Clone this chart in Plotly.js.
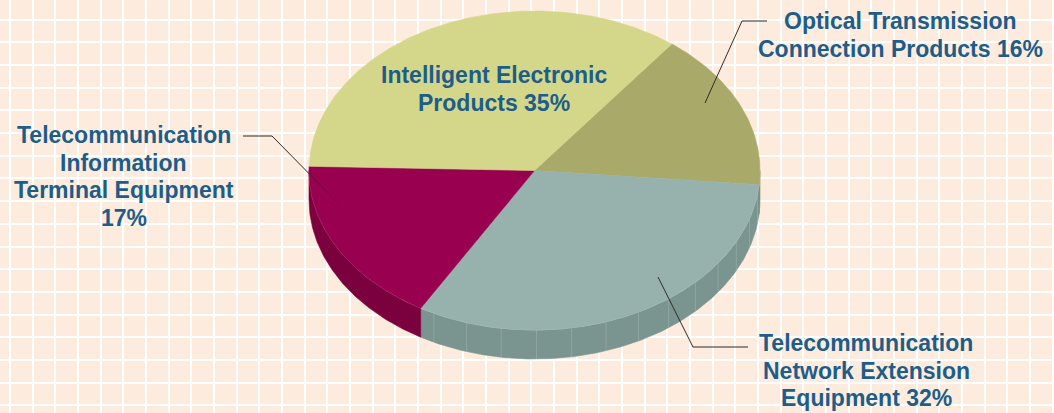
<!DOCTYPE html>
<html>
<head>
<meta charset="utf-8">
<script src="https://cdn.plot.ly/plotly-3.0.1.min.js"></script>
<style>html,body{margin:0;padding:0;background:#FDECDD;}#chart{width:1054px;height:413px;}</style>
</head>
<body>
<div id="chart"></div>
<script>
// ---- data ----
const categories = [
  "Optical Transmission Connection Products",
  "Telecommunication Network Extension Equipment",
  "Telecommunication Information Terminal Equipment",
  "Intelligent Electronic Products"
];
const values = [16, 32, 17, 35];
const labelLines = [
  ["Optical Transmission", "Connection Products 16%"],
  ["Telecommunication", "Network Extension", "Equipment 32%"],
  ["Telecommunication", "Information", "Terminal Equipment", "17%"],
  ["Intelligent Electronic", "Products 35%"]
];
const topColors  = ["#A9AA69", "#97B2AD", "#990050", "#D4D78A"];
const sideColors = ["#8A8B52", "#7A948F", "#7A003E", "#AEB06C"];
const showFacets = [true, true, false, false];

// ---- geometry (layout constants, pixel space) ----
const CX = 534.5, CY = 170.5, RX = 225.5, RY = 159.5, DEPTH = 29;
const START = 52.5; // degrees, slices run clockwise
const LINE_H = 27.6;
const labelPos = [[900, 35], [866, 370.5], [123.5, 176.5], [493.5, 89]];
const leaders = [
  [[705, 103], [742, 21], [767, 21]],
  [[658, 277], [693, 347], [748, 347]],
  [[337, 202], [272, 136], [243, 136]],
  null
];

function pt(aDeg, dy) {
  const a = aDeg * Math.PI / 180;
  return [CX + RX * Math.cos(a), CY - RY * Math.sin(a) + (dy || 0)];
}
function arc(from, to, dy) {
  const n = Math.max(2, Math.ceil(Math.abs(to - from) / 0.5));
  const out = [];
  for (let k = 0; k <= n; k++) out.push(pt(from + (to - from) * k / n, dy));
  return out;
}

const total = values.reduce((s, v) => s + v, 0);
const sideTraces = [], topTraces = [], facetTraces = [];
let cum = 0;
values.forEach((v, i) => {
  const a0 = START - cum / total * 360;
  const a1 = a0 - v / total * 360;
  cum += v;
  // top face
  const pts = [[CX, CY]].concat(arc(a0, a1, 0)).concat([[CX, CY]]);
  topTraces.push({
    type: "scatter", mode: "lines", fill: "toself",
    x: pts.map(p => p[0]), y: pts.map(p => p[1]),
    fillcolor: topColors[i], line: {color: topColors[i], width: 0.6},
    hoverinfo: "skip", name: categories[i]
  });
  // front side (visible where angle in [-180, 0])
  const hi = Math.min(a0, 0), lo = Math.max(a1, -180);
  if (hi > lo) {
    const upper = arc(hi, lo, 0);
    const lower = arc(lo, hi, DEPTH);
    const sp = upper.concat(lower).concat([upper[0]]);
    sideTraces.push({
      type: "scatter", mode: "lines", fill: "toself",
      x: sp.map(p => p[0]), y: sp.map(p => p[1]),
      fillcolor: sideColors[i], line: {color: sideColors[i], width: 0.6},
      hoverinfo: "skip"
    });
    if (showFacets[i]) {
      const fx = [], fy = [];
      for (let a = Math.ceil(lo / 9) * 9 + 0.5; a < hi; a += 9) {
        if (a <= lo + 1 || a >= hi - 1) continue;
        const p1 = pt(a, 0), p2 = pt(a, DEPTH);
        fx.push(p1[0], p2[0], null); fy.push(p1[1], p2[1], null);
      }
      facetTraces.push({
        type: "scatter", mode: "lines", x: fx, y: fy,
        line: {color: "rgba(255,255,255,0.16)", width: 1}, hoverinfo: "skip"
      });
    }
    const edge = arc(hi, lo, 0);
    facetTraces.push({
      type: "scatter", mode: "lines",
      x: edge.map(p => p[0]), y: edge.map(p => p[1]),
      line: {color: "rgba(255,255,255,0.35)", width: 1}, hoverinfo: "skip"
    });
  }
});

const shapes = [];
leaders.forEach(L => {
  if (!L) return;
  shapes.push({
    type: "path", xref: "x", yref: "y", layer: "above",
    path: "M" + L.map(p => p[0] + "," + p[1]).join(" L"),
    line: {color: "#2b2b2b", width: 1}
  });
});

const annotations = [];
labelLines.forEach((lines, i) => {
  const n = lines.length;
  lines.forEach((t, k) => {
    annotations.push({
      x: labelPos[i][0], y: labelPos[i][1] + (k - (n - 1) / 2) * LINE_H,
      xref: "x", yref: "y", text: t, showarrow: false,
      xanchor: "center", yanchor: "middle", align: "center",
      font: {family: "Liberation Sans, Arial, sans-serif", size: 23, color: "#1C5D89", weight: "bold"}
    });
  });
});

const layout = {
  width: 1054, height: 413,
  margin: {l: 0, r: 0, t: 0, b: 0},
  paper_bgcolor: "#FDECDD", plot_bgcolor: "#FDECDD",
  showlegend: false, hovermode: false,
  xaxis: {range: [0, 1054], showgrid: true, gridcolor: "#FFFFFF", gridwidth: 2,
          tick0: 10, dtick: 22.67, showticklabels: false, zeroline: false, ticks: "",
          fixedrange: true, showline: false},
  yaxis: {range: [413, 0], showgrid: true, gridcolor: "#FFFFFF", gridwidth: 2,
          tick0: 19.5, dtick: 22.7, showticklabels: false, zeroline: false, ticks: "",
          fixedrange: true, showline: false},
  shapes: shapes,
  annotations: annotations
};

Plotly.newPlot("chart", sideTraces.concat(facetTraces).concat(topTraces), layout,
  {staticPlot: true, displayModeBar: false});
</script>
</body>
</html>
